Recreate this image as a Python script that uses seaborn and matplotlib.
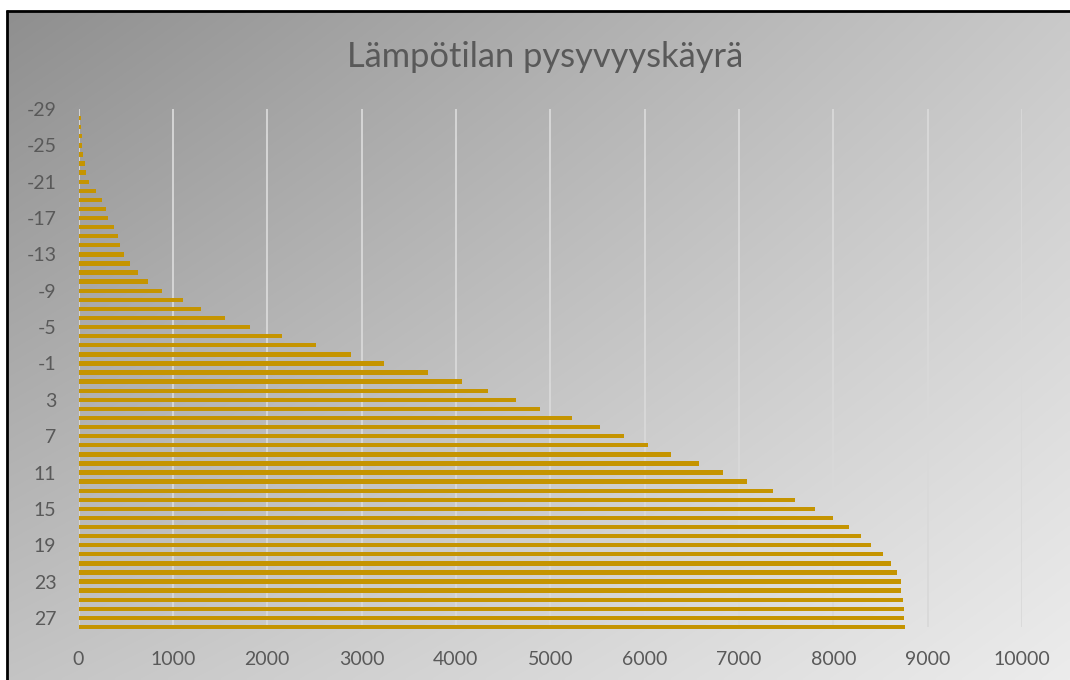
import numpy as np
import pandas as pd
import matplotlib
matplotlib.use("Agg")
import matplotlib.pyplot as plt
import seaborn as sns

# ---- data ----
temperatures = list(range(-29, 29))
hours = [10, 30, 30, 32, 32, 52, 73, 75, 116, 181,
         246, 288, 310, 374, 416, 438, 480, 544, 630, 733,
         880, 1108, 1302, 1558, 1813, 2154, 2514, 2893, 3234, 3703,
         4062, 4337, 4635, 4891, 5227, 5526, 5781, 6037, 6285, 6577,
         6831, 7084, 7359, 7590, 7808, 7996, 8170, 8292, 8401, 8524,
         8611, 8676, 8715, 8722, 8740, 8745, 8750, 8760]
x_ticks = list(range(0, 10001, 1000))
title = "Lämpötilan pysyvyyskäyrä"

sns.set_theme(style="white")
plt.rcParams['font.family'] = ['Lato', 'DejaVu Sans']

W, H, DPI = 1070, 680, 100
fig = plt.figure(figsize=(W / DPI, H / DPI), dpi=DPI)
fig.patch.set_facecolor("white")

# background gradient + frame
bg = fig.add_axes([0, 0, 1, 1], zorder=-10)
bg.set_xlim(0, W)
bg.set_ylim(H, 0)
bg.axis("off")
u = np.linspace(0, 1, 300)[None, :]
w = np.linspace(0, 1, 200)[:, None]
v = (143 + 58 * u + 53 * w - 18 * u * w) / 255.0
img = np.dstack([v, v, v])
bg.imshow(img, extent=(7, W, H, 11), origin="upper", aspect="auto", interpolation="bilinear")
bg.plot([6, W], [10.5, 10.5], color="black", lw=2.0, solid_capstyle="butt")
bg.plot([7, 7], [10, H], color="black", lw=2.0, solid_capstyle="butt")

# main axes
left, right, top, bottom = 78.5, 1022, 109, 627
ax = fig.add_axes([left / W, 1 - bottom / H, (right - left) / W, (bottom - top) / H])
ax.patch.set_alpha(0)

df = pd.DataFrame({"temp": [str(t) for t in temperatures], "hours": hours})
sns.barplot(data=df, x="hours", y="temp", orient="h", order=df["temp"].tolist(),
            color="#C59400", saturation=1, width=0.48, ax=ax, zorder=3,
            linewidth=0, edgecolor="none")
for p in ax.patches:
    p.set_clip_on(False)

ax.set_xlim(0, 10000)
ax.set_ylim(len(temperatures) - 1, 0)
ax.set_xticks(x_ticks)
ax.set_xticklabels([str(t) for t in x_ticks])
ypos = list(range(0, len(temperatures), 4))
ax.set_yticks(ypos)
ax.set_yticklabels([str(temperatures[i]) for i in ypos])
ax.set_xlabel("")
ax.set_ylabel("")
ax.grid(axis="x", color="#D9D9D9", lw=1.3)
ax.grid(axis="y", visible=False)
ax.set_axisbelow(True)
for s in ax.spines.values():
    s.set_visible(False)
ax.tick_params(axis="both", length=0, labelsize=14, labelcolor="#595959")
ax.tick_params(axis="y", pad=16)
ax.tick_params(axis="x", pad=17)

fig.text(545 / W, 1 - 67 / H, title, ha="center", va="baseline",
         fontsize=24.8, color="#595959")

fig.savefig("out.png", dpi=DPI)
